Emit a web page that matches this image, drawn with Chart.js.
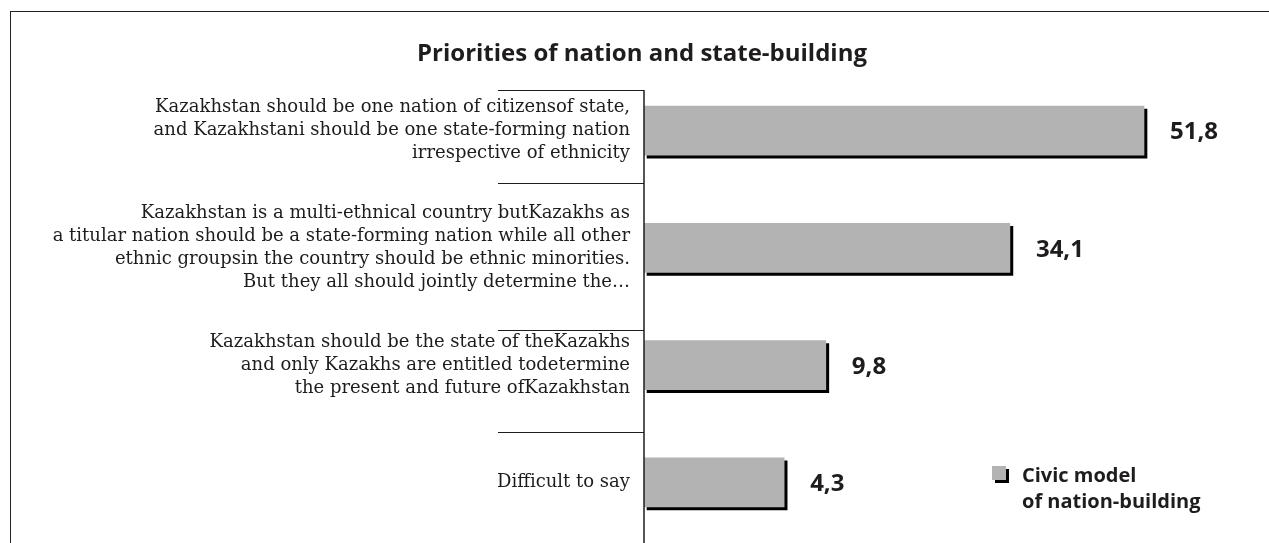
<!DOCTYPE html>
<html>
<head>
<meta charset="utf-8">
<script src="https://cdn.jsdelivr.net/npm/chart.js@4.4.1/dist/chart.umd.min.js"></script>
<style>
  html, body { margin: 0; padding: 0; background: #fff; overflow: hidden; }
  #wrap { position: relative; width: 1269px; height: 543px; }
  #frame { position: absolute; left: 10px; top: 11px; width: 1300px; height: 600px;
           border-left: 1.5px solid #222; border-top: 1.5px solid #222; }
  canvas { position: absolute; left: 0; top: 0; }
</style>
</head>
<body>
<div id="wrap">
  <div id="frame"></div>
  <canvas id="bars" width="1269" height="543"></canvas>
</div>
<script>
var chartTitle = 'Priorities of nation and state-building';
var seriesName = ['Civic model', 'of nation-building'];

var categories = [
    ['Kazakhstan should be one nation of citizensof state,',
     'and Kazakhstani should be one state-forming nation',
     'irrespective of ethnicity'],
    ['Kazakhstan is a multi-ethnical country butKazakhs as',
     'a titular nation should be a state-forming nation while all other',
     'ethnic groupsin the country should be ethnic minorities.',
     'But they all should jointly determine the\u2026'],
    ['Kazakhstan should be the state of theKazakhs',
     'and only Kazakhs are entitled todetermine',
     'the present and future ofKazakhstan'],
    'Difficult to say'
];
var values = [51.8, 34.1, 9.8, 4.3];

// value axis range as in the original (bars grow from the left end)
var axisMin = -14.2;
var axisMax = 65;

// separator lines between the category labels, in category units
var separators = [-0.35, 0.45, 1.7, 2.57];

var barGray = '#b3b3b3';
var ink = '#1e1c1d';

var decor = {
    id: 'decor',
    beforeDatasetsDraw: function (chart) {
        var c = chart.ctx;
        c.save();
        c.shadowColor = '#000';
        c.shadowOffsetX = 3;
        c.shadowOffsetY = 3;
        c.shadowBlur = 0;
    },
    afterDatasetsDraw: function (chart) {
        var c = chart.ctx;
        c.restore();
        var y = chart.scales.y;
        var p0 = y.getPixelForValue(0), p1 = y.getPixelForValue(1);
        var left = chart.chartArea.left;
        c.save();
        // category separators
        c.strokeStyle = ink;
        c.lineWidth = 1;
        separators.forEach(function (s) {
            var py = Math.round(p0 + s * (p1 - p0)) + 0.5;
            c.beginPath();
            c.moveTo(left - 146, py);
            c.lineTo(left, py);
            c.stroke();
        });
        // axis line
        var top = Math.round(p0 + separators[0] * (p1 - p0));
        c.lineWidth = 1.5;
        c.beginPath();
        c.moveTo(left, top);
        c.lineTo(left, chart.height + 5);
        c.stroke();

        // value labels
        c.fillStyle = ink;
        c.font = 'bold 24px "Open Sans"';
        c.textAlign = 'left';
        c.textBaseline = 'middle';
        chart.getDatasetMeta(0).data.forEach(function (bar, i) {
            c.fillText(values[i].toFixed(1).replace('.', ','), bar.x + 26, bar.y + 2);
        });

        // title
        c.font = 'bold 24px "Open Sans"';
        c.textAlign = 'center';
        c.fillText(chartTitle, 642, 54);

        // legend
        c.fillStyle = '#000';
        c.fillRect(995, 469, 14, 14);
        c.fillStyle = barGray;
        c.fillRect(992, 466, 14, 14);
        c.fillStyle = ink;
        c.font = 'bold 20px "Open Sans"';
        c.textAlign = 'left';
        c.fillText(seriesName[0], 1022, 476);
        c.fillText(seriesName[1], 1022, 502);
        c.restore();
    }
};

var ctx = document.getElementById('bars').getContext('2d');
var myChart = new Chart(ctx, {
    type: 'bar',
    data: {
        labels: categories,
        datasets: [{
            label: seriesName.join(' '),
            data: values,
            base: axisMin,
            backgroundColor: barGray,
            borderWidth: 0,
            barThickness: 49
        }]
    },
    options: {
        indexAxis: 'y',
        responsive: false,
        animation: false,
        layout: { padding: { top: 72, bottom: 2, left: 0, right: 25 } },
        plugins: {
            legend: { display: false },
            tooltip: { enabled: false }
        },
        scales: {
            x: {
                display: false,
                min: axisMin,
                max: axisMax
            },
            y: {
                offset: true,
                border: { display: false },
                grid: { display: false, drawTicks: false },
                afterFit: function (scale) {
                    scale.width = 644;
                    scale.paddingTop = 0;
                    scale.paddingBottom = 0;
                },
                ticks: {
                    color: ink,
                    padding: 14,
                    font: { family: '"DejaVu Serif"', size: 18, lineHeight: 1.28 }
                }
            }
        }
    },
    plugins: [decor]
});
</script>
</body>
</html>
